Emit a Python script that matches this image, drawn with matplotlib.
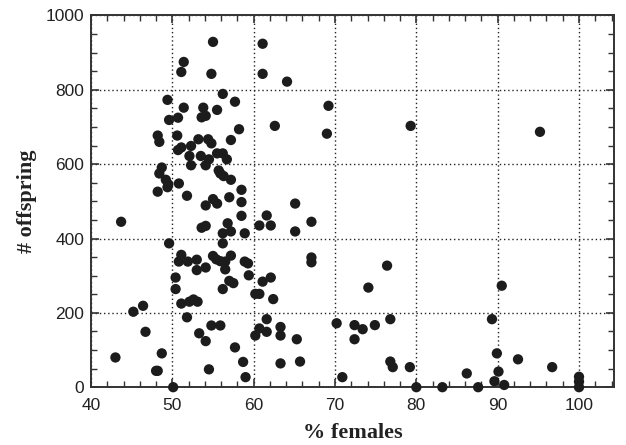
import matplotlib
matplotlib.use("Agg")
import matplotlib.pyplot as plt
from matplotlib.ticker import MultipleLocator

# % females
pct_females = [
    55.0, 61.1, 51.4, 51.1, 54.8, 61.1, 64.1, 56.2, 49.4, 57.7,
    51.4, 53.8, 55.5, 53.6, 54.1, 50.7, 49.6, 62.6, 79.3, 95.2,
    69.2, 69.0, 58.2, 48.2, 48.4, 50.6, 53.2, 54.4, 54.8, 57.2,
    52.3, 51.1, 50.7, 55.5, 56.2, 52.1, 53.5, 54.5, 56.7, 52.3,
    54.1, 48.7, 48.4, 55.7, 55.9, 56.3, 57.2, 49.2, 49.5, 49.4,
    50.8, 48.2, 58.5, 51.8, 55.0, 55.5, 57.0, 58.5, 54.1, 65.1,
    43.7, 61.6, 58.5, 60.7, 62.1, 56.8, 53.6, 54.1, 56.2, 57.2,
    58.9, 65.1, 67.1, 49.6, 56.2, 51.1, 50.8, 51.9, 53.0, 53.0,
    54.1, 55.0, 55.4, 55.9, 57.2, 56.5, 56.5, 58.9, 59.3, 59.4,
    50.4, 57.0, 57.5, 61.1, 62.1, 50.4, 56.2, 60.2, 60.7, 62.4,
    51.1, 52.1, 52.6, 53.1, 45.2, 46.4, 51.8, 61.6, 54.8, 55.9,
    60.7, 61.6, 60.2, 63.3, 63.3, 46.7, 53.3, 54.1, 57.7, 65.3,
    43.0, 48.7, 58.7, 63.3, 65.7, 48.0, 48.2, 54.5, 59.0, 50.1,
    67.1, 67.1, 76.4, 74.1, 70.2, 72.4, 73.4, 74.9, 72.4, 76.8,
    76.8, 77.1, 79.2, 70.9, 80.0, 83.2, 87.6, 86.2, 90.5, 89.3,
    89.9, 92.5, 96.7, 90.1, 89.6, 90.8, 100.0, 100.0, 100.0,
]

# number of offspring
offspring = [
    929, 924, 875, 848, 843, 843, 822, 789, 773, 768,
    752, 752, 746, 726, 730, 725, 719, 703, 703, 687,
    757, 682, 694, 677, 660, 677, 667, 667, 656, 665,
    649, 645, 638, 629, 629, 622, 622, 613, 613, 597,
    597, 591, 575, 583, 575, 568, 558, 558, 546, 538,
    548, 526, 531, 515, 506, 494, 511, 498, 489, 494,
    445, 462, 461, 435, 435, 441, 429, 434, 414, 419,
    414, 419, 445, 387, 387, 356, 338, 338, 343, 315,
    322, 353, 344, 339, 354, 338, 317, 338, 333, 301,
    295, 286, 280, 284, 295, 264, 264, 251, 251, 237,
    225, 230, 236, 230, 203, 219, 188, 183, 166, 166,
    158, 149, 139, 162, 139, 149, 145, 124, 107, 129,
    80, 91, 68, 64, 69, 44, 44, 48, 27, 0,
    349, 336, 327, 268, 172, 167, 156, 167, 129, 183,
    69, 54, 54, 27, 0, 0, 0, 37, 273, 183,
    91, 75, 54, 42, 16, 6, 28, 15, 0,
]

x_ticks = [40, 50, 60, 70, 80, 90, 100]
y_ticks = [0, 200, 400, 600, 800, 1000]

fig = plt.figure(figsize=(6.26, 4.45), dpi=100)
ax = fig.add_axes([0.1454, 0.1299, 0.9808 - 0.1454, 0.9652 - 0.1299])

ax.scatter(pct_females, offspring, s=55, color="#1c1c1c", edgecolors="none",
           zorder=3, clip_on=False)

ax.set_xlim(40, 104.3)
ax.set_ylim(0, 1000)
ax.set_xticks(x_ticks)
ax.set_yticks(y_ticks)
ax.xaxis.set_minor_locator(MultipleLocator(2))
ax.yaxis.set_minor_locator(MultipleLocator(50))

ax.grid(True, which="major", linestyle=(0, (1, 2)), color="#222222", linewidth=1.0)
ax.set_axisbelow(True)

ax.tick_params(which="both", direction="in", top=True, right=True,
               color="#333333", labelsize=12.5)
ax.tick_params(axis="x", which="major", pad=8)
ax.tick_params(axis="y", which="major", pad=5)
ax.tick_params(which="major", length=6, width=1.2)
ax.tick_params(which="minor", length=4, width=1.0)
for lab in ax.get_xticklabels() + ax.get_yticklabels():
    lab.set_family(["Liberation Sans", "DejaVu Sans"])
    lab.set_color("#222222")

for sp in ax.spines.values():
    sp.set_color("#333333")
    sp.set_linewidth(1.4)

ax.set_xlabel("% females", family="Liberation Serif", fontweight="bold",
              fontsize=16, color="#222222", labelpad=7)
ax.set_ylabel("# offspring", family="Liberation Serif", fontweight="bold",
              fontsize=16, color="#222222", labelpad=6)

fig.savefig("out.png", dpi=100)
